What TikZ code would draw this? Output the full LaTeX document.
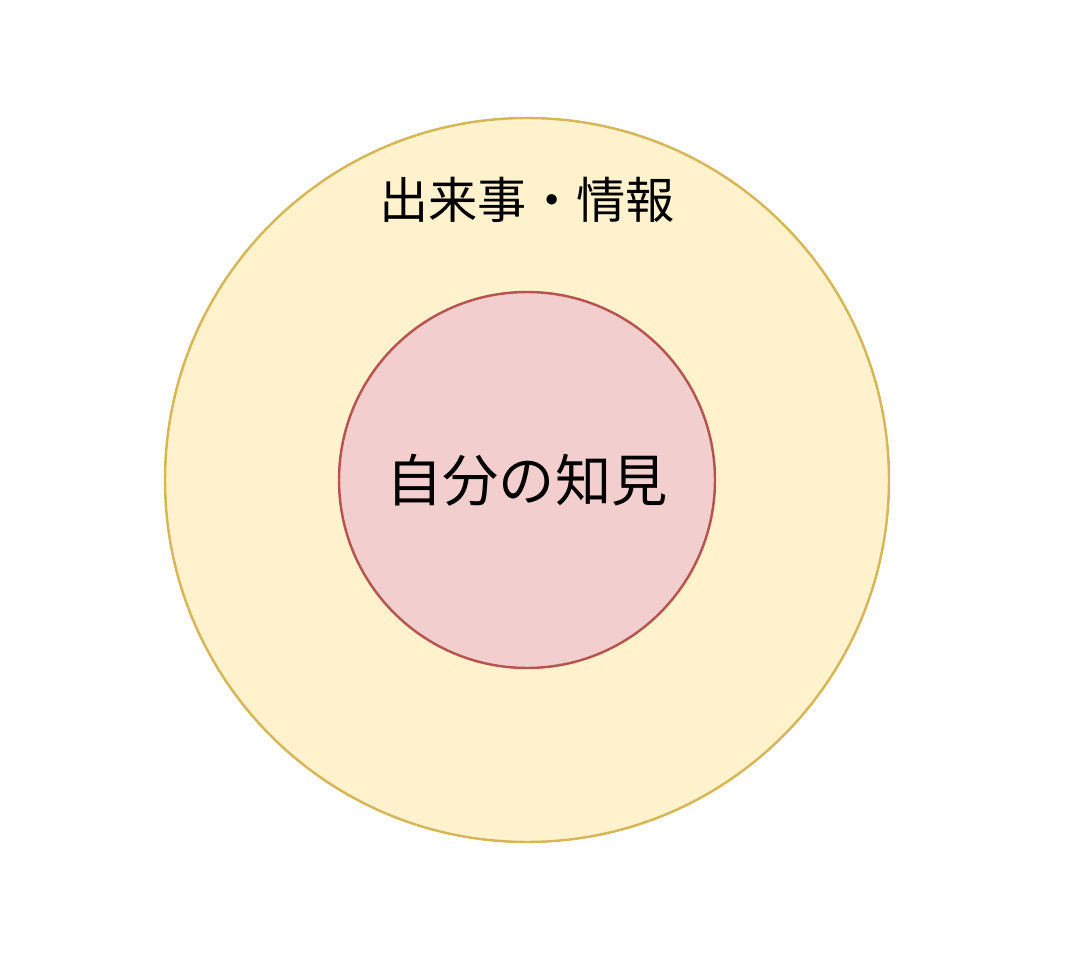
\documentclass[tikz,border=0pt]{standalone}
\usepackage{fontspec}
\newfontfamily\cjk{Noto Sans CJK JP}
\usepackage{tikz}
\definecolor{outerfill}{HTML}{FFF2CC}
\definecolor{outerline}{HTML}{D6B656}
\definecolor{innerfill}{HTML}{F2CFCE}
\definecolor{innerline}{HTML}{B85450}

\begin{document}
\begin{tikzpicture}[every path/.style={line width=1.4pt},
    ring/.style={draw,circle,inner sep=0pt}]
          \useasboundingbox (0,0) rectangle (21.62,19.16);
          \node[ring,fill=outerfill,draw=outerline,minimum size=14.48cm] (events) at (10.54,9.56) {};
          \node[ring,fill=innerfill,draw=innerline,minimum size=7.52cm] (self) at (10.54,9.56) {};

          \node[font=\cjk\fontsize{28}{32}\selectfont] (eventslabel) at (10.54,15.16) {出来事・情報};
          \node[font=\cjk\fontsize{32}{36}\selectfont] (selflabel) at (self.center) {自分の知見};
        \end{tikzpicture}
\end{document}
